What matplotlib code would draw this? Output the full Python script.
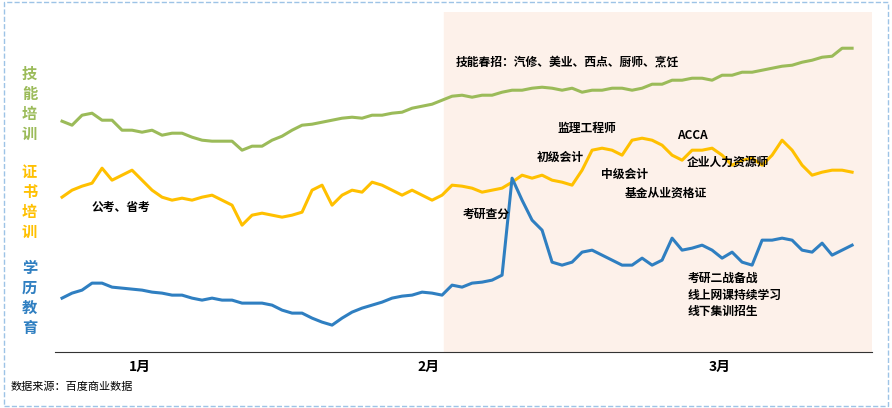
import matplotlib
matplotlib.use("Agg")
import matplotlib.pyplot as plt
from matplotlib.patches import Rectangle
import numpy as np

plt.rcParams['font.family'] = ['Noto Sans CJK SC', 'DejaVu Sans']

skill_px = [121,125,115,113,120,120,130,130,132,130,135,133,133,137,140,141,141,141,150,146,146,140,136,130,125,124,122,120,118,117,118,115,115,113,112,108,106,104,100,96,95,97,95,95,92,90,90,88,87,88,90,88,92,90,90,88,88,90,88,84,84,80,80,78,78,80,75,75,72,72,70,68,66,65,62,60,57,56,48,48]
cert_px = [197,190,186,183,168,180,175,170,180,190,197,200,198,200,197,195,200,205,225,215,213,215,217,215,212,190,185,205,195,190,192,182,185,190,195,190,195,200,195,185,186,188,192,190,188,182,175,178,175,180,182,185,170,150,148,150,155,140,138,140,145,155,160,150,150,148,155,165,160,158,165,155,140,150,165,175,172,170,170,172]
edu_px = [298,293,290,283,283,287,288,289,290,292,293,295,295,298,300,298,300,300,303,303,303,305,310,313,313,318,322,325,318,312,308,305,302,298,296,295,292,293,295,285,287,283,282,280,275,178,200,220,230,262,265,262,252,250,255,260,265,265,258,265,260,238,250,248,245,250,258,252,262,265,240,240,238,240,250,252,243,255,250,245]
skill = [400 - v for v in skill_px]
cert = [400 - v for v in cert_px]
edu = [400 - v for v in edu_px]
x = np.arange(len(skill))
month_labels = ['1月', '2月', '3月']
month_pos = [7.8, 36.6, 65.8]

fig = plt.figure(figsize=(8.92, 4.08), dpi=100)
ax = fig.add_axes([0.0617, 0.137, 0.916, 0.833])
ax.set_xlim(-0.7, 81)
ax.set_ylim(48, 388)
ax.add_patch(Rectangle((38.2, 48), 50, 400, color='#FDF1EA', zorder=0))
ax.plot(x, skill, color='#9BBB59', lw=2.2)
ax.plot(x, cert, color='#FFC000', lw=2.2)
ax.plot(x, edu, color='#2F7FC1', lw=2.2)
for s in ['top', 'right', 'left']:
    ax.spines[s].set_visible(False)
ax.spines['bottom'].set_color('#333333')
ax.set_yticks([])
ax.set_xticks(month_pos)
ax.set_xticklabels(month_labels, fontsize=10, fontweight='bold')
ax.tick_params(axis='x', length=0, pad=6)

def vlabel(txt, y, color):
    fig.text(0.033, y, '\n'.join(txt), color=color, fontsize=11, fontweight='bold', ha='center', va='center', linespacing=1.3)
vlabel('技能培训', 0.745, '#9BBB59')
vlabel('证书培训', 0.505, '#FFC000')
vlabel('学历教育', 0.27, '#2F7FC1')

def ann(px, py, t):
    ax.text((px - 62) / 10, 400 - py, t, fontsize=8.5, fontweight='bold', va='center', ha='left')
ann(456, 62, '技能春招：汽修、美业、西点、厨师、烹饪')
ann(557, 128, '监理工程师')
ann(677, 135, 'ACCA')
ann(537, 157, '初级会计')
ann(687, 162, '企业人力资源师')
ann(601, 174, '中级会计')
ann(625, 193, '基金从业资格证')
ann(92, 207, '公考、省考')
ann(463, 214, '考研查分')
ann(688, 278, '考研二战备战')
ann(688, 295, '线上网课持续学习')
ann(688, 311, '线下集训招生')
fig.text(0.012, 0.045, '数据来源：百度商业数据', fontsize=8)
fig.add_artist(Rectangle((0.004, 0.006), 0.992, 0.988, transform=fig.transFigure, fill=False, ec='#9DC3E6', ls='--', lw=1))
fig.savefig('out.png', dpi=100)
